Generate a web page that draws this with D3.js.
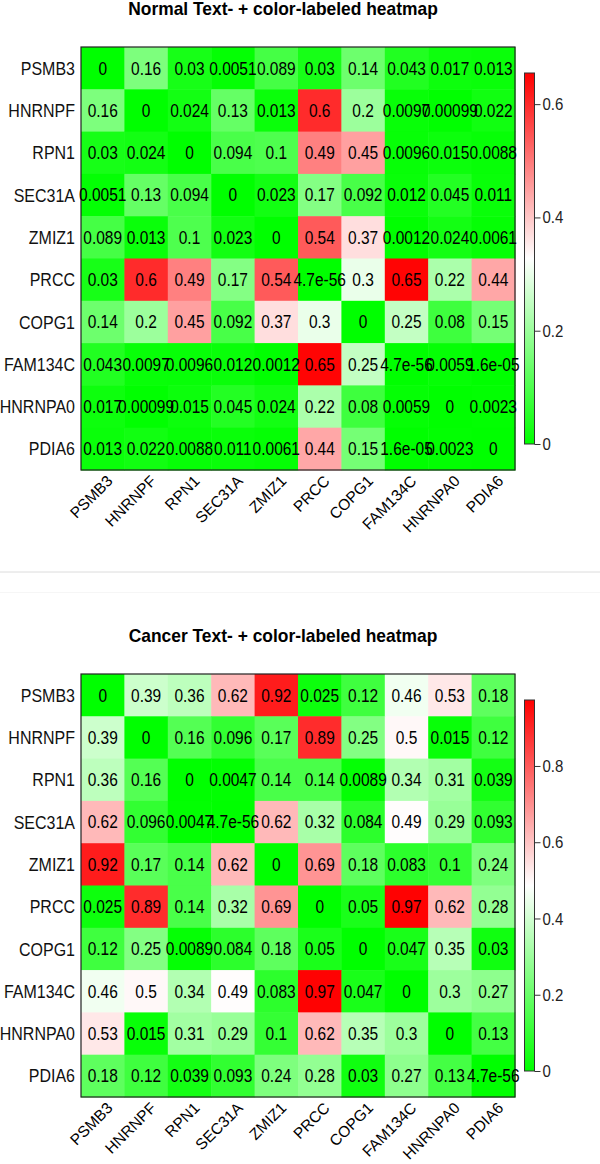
<!DOCTYPE html>
<html><head><meta charset="utf-8">
<script src="https://cdn.jsdelivr.net/npm/d3@7"></script>
<style>
body{margin:0;background:#fff}
text{font-family:"Liberation Sans",Arial,sans-serif}
</style>
</head><body>
<svg id="c" width="600" height="1164"></svg>
<script>
const genes = ["PSMB3","HNRNPF","RPN1","SEC31A","ZMIZ1","PRCC","COPG1","FAM134C","HNRNPA0","PDIA6"];

const normalValues = [
  [0, 0.16, 0.03, 0.0051, 0.089, 0.03, 0.14, 0.043, 0.017, 0.013],
  [0.16, 0, 0.024, 0.13, 0.013, 0.6, 0.2, 0.0097, 0.00099, 0.022],
  [0.03, 0.024, 0, 0.094, 0.1, 0.49, 0.45, 0.0096, 0.015, 0.0088],
  [0.0051, 0.13, 0.094, 0, 0.023, 0.17, 0.092, 0.012, 0.045, 0.011],
  [0.089, 0.013, 0.1, 0.023, 0, 0.54, 0.37, 0.0012, 0.024, 0.0061],
  [0.03, 0.6, 0.49, 0.17, 0.54, 4.7e-56, 0.3, 0.65, 0.22, 0.44],
  [0.14, 0.2, 0.45, 0.092, 0.37, 0.3, 0, 0.25, 0.08, 0.15],
  [0.043, 0.0097, 0.0096, 0.012, 0.0012, 0.65, 0.25, 4.7e-56, 0.0059, 1.6e-05],
  [0.017, 0.00099, 0.015, 0.045, 0.024, 0.22, 0.08, 0.0059, 0, 0.0023],
  [0.013, 0.022, 0.0088, 0.011, 0.0061, 0.44, 0.15, 1.6e-05, 0.0023, 0]
];

const cancerValues = [
  [0, 0.39, 0.36, 0.62, 0.92, 0.025, 0.12, 0.46, 0.53, 0.18],
  [0.39, 0, 0.16, 0.096, 0.17, 0.89, 0.25, 0.5, 0.015, 0.12],
  [0.36, 0.16, 0, 0.0047, 0.14, 0.14, 0.0089, 0.34, 0.31, 0.039],
  [0.62, 0.096, 0.0047, 4.7e-56, 0.62, 0.32, 0.084, 0.49, 0.29, 0.093],
  [0.92, 0.17, 0.14, 0.62, 0, 0.69, 0.18, 0.083, 0.1, 0.24],
  [0.025, 0.89, 0.14, 0.32, 0.69, 0, 0.05, 0.97, 0.62, 0.28],
  [0.12, 0.25, 0.0089, 0.084, 0.18, 0.05, 0, 0.047, 0.35, 0.03],
  [0.46, 0.5, 0.34, 0.49, 0.083, 0.97, 0.047, 0, 0.3, 0.27],
  [0.53, 0.015, 0.31, 0.29, 0.1, 0.62, 0.35, 0.3, 0, 0.13],
  [0.18, 0.12, 0.039, 0.093, 0.24, 0.28, 0.03, 0.27, 0.13, 4.7e-56]
];

const colorLimits = [0.655, 0.973];
const titles = ["Normal Text- + color-labeled heatmap", "Cancer Text- + color-labeled heatmap"];
const legendTicks = [[0, 0.2, 0.4, 0.6], [0, 0.2, 0.4, 0.6, 0.8]];

function rfmt(v){
  if (v === 0) return "0";
  const sci = v.toExponential().replace(/e([+-])(\d)$/, "e$10$2");
  const fixed = v >= 1e-6 ? v.toString() : null;
  return (fixed && fixed.length <= sci.length) ? fixed : sci;
}

const SY = 1.15; // vertical stretch of glyphs seen in the reference
const svg = d3.select("#c");
svg.append("rect").attr("width",600).attr("height",1164).attr("fill","#fff");

function drawPanel(values, vmax, title, ticks, offY, idx){
  const g = svg.append("g").attr("transform", `translate(0,${offY})`);
  const x = d3.scaleBand().domain(genes).range([81, 515]);
  const y = d3.scaleBand().domain(genes).range([47, 470]);
  const color = d3.scaleLinear().domain([0, vmax/2, vmax]).range(["#00ff00","#ffffff","#ff0000"]).clamp(true);

  g.append("text").attr("transform", `translate(283,15) scale(1,1.04)`).attr("text-anchor","middle")
    .attr("font-size", 17.4).attr("font-weight","bold").attr("fill","#000").text(title);

  const cells = [];
  values.forEach((row, i) => row.forEach((v, j) => cells.push({r: genes[i], c: genes[j], v})));

  g.selectAll("rect.cell").data(cells).join("rect").attr("class","cell")
    .attr("x", d => x(d.c)).attr("y", d => y(d.r))
    .attr("width", x.bandwidth()+0.5).attr("height", y.bandwidth()+0.5)
    .attr("fill", d => color(d.v));

  g.append("rect").attr("x", 81).attr("y", 47).attr("width", 434).attr("height", 423)
    .attr("fill","none").attr("stroke","#222").attr("stroke-width",1.2);

  g.selectAll("text.val").data(cells).join("text").attr("class","val")
    .attr("transform", d => `translate(${x(d.c) + x.bandwidth()/2},${y(d.r) + y.bandwidth()/2}) scale(1,${SY})`)
    .attr("dy","0.36em").attr("text-anchor","middle").attr("font-size",15.5).attr("fill","#000")
    .text(d => rfmt(d.v));

  g.selectAll("text.rowlab").data(genes).join("text").attr("class","rowlab")
    .attr("transform", d => `translate(75,${y(d) + y.bandwidth()/2}) scale(1,${SY})`).attr("dy","0.36em")
    .attr("text-anchor","end").attr("font-size",16).attr("fill","#111").text(d => d);

  g.selectAll("text.collab").data(genes).join("text").attr("class","collab")
    .attr("transform", d => `translate(${x(d) + x.bandwidth()/2 + 11},${482}) rotate(-45)`)
    .attr("text-anchor","end").attr("font-size",15.5).attr("fill","#000").text(d => d);

  // legend
  const ly = d3.scaleLinear().domain([0, vmax]).range([444, 73]);
  const gid = "grad" + idx;
  const grad = svg.append("defs").append("linearGradient").attr("id", gid)
    .attr("x1","0").attr("y1","1").attr("x2","0").attr("y2","0");
  d3.range(0, 1.0001, 0.05).forEach(t => grad.append("stop").attr("offset", t).attr("stop-color", color(t*vmax)));
  g.append("rect").attr("x", 524.5).attr("y", 73).attr("width", 10).attr("height", 371)
    .attr("fill", `url(#${gid})`).attr("stroke","#333").attr("stroke-width",1);
  const ax = g.append("g").attr("transform","translate(534.5,0)")
    .call(d3.axisRight(ly).tickValues(ticks).tickSize(6).tickPadding(2).tickFormat(d => String(d)));
  ax.select(".domain").remove();
  ax.selectAll("line").attr("stroke","#333");
  ax.selectAll("text").attr("font-size",15).attr("fill","#222").attr("transform",`scale(1,${SY})`)
    .style("font-family",'"Liberation Sans",Arial,sans-serif');
}

drawPanel(normalValues, colorLimits[0], titles[0], legendTicks[0], 0, 0);
drawPanel(cancerValues, colorLimits[1], titles[1], legendTicks[1], 627, 1);

svg.append("line").attr("x1",0).attr("x2",600).attr("y1",572).attr("y2",572)
  .attr("stroke","#dcdcdc").attr("stroke-width",1);
svg.append("line").attr("x1",0).attr("x2",600).attr("y1",592.5).attr("y2",592.5)
  .attr("stroke","#f6f6f6").attr("stroke-width",1);
</script>
</body></html>
